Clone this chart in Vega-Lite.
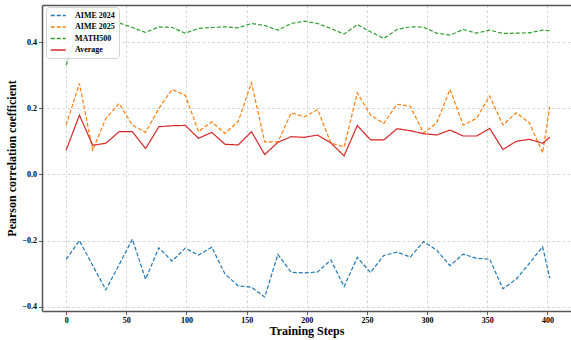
{
  "$schema": "https://vega.github.io/schema/vega-lite/v6.json",
  "autosize": {"type": "none"},
  "padding": {"left": 42, "top": 5, "right": 0, "bottom": 29},
  "width": 529,
  "height": 306,
  "background": "white",
  "data": {
    "values": [
      {"step": 0, "AIME 2024": -0.257, "AIME 2025": 0.149, "MATH500": 0.330, "Average": 0.073},
      {"step": 11, "AIME 2024": -0.200, "AIME 2025": 0.275, "MATH500": 0.455, "Average": 0.179},
      {"step": 22, "AIME 2024": -0.275, "AIME 2025": 0.073, "MATH500": 0.463, "Average": 0.088},
      {"step": 33, "AIME 2024": -0.349, "AIME 2025": 0.169, "MATH500": 0.463, "Average": 0.094},
      {"step": 44, "AIME 2024": -0.273, "AIME 2025": 0.214, "MATH500": 0.458, "Average": 0.129},
      {"step": 55, "AIME 2024": -0.196, "AIME 2025": 0.149, "MATH500": 0.444, "Average": 0.129},
      {"step": 66, "AIME 2024": -0.317, "AIME 2025": 0.127, "MATH500": 0.429, "Average": 0.078},
      {"step": 77, "AIME 2024": -0.222, "AIME 2025": 0.199, "MATH500": 0.446, "Average": 0.144},
      {"step": 88, "AIME 2024": -0.262, "AIME 2025": 0.257, "MATH500": 0.444, "Average": 0.147},
      {"step": 99, "AIME 2024": -0.223, "AIME 2025": 0.239, "MATH500": 0.427, "Average": 0.148},
      {"step": 110, "AIME 2024": -0.244, "AIME 2025": 0.129, "MATH500": 0.441, "Average": 0.109},
      {"step": 121, "AIME 2024": -0.220, "AIME 2025": 0.159, "MATH500": 0.444, "Average": 0.127},
      {"step": 132, "AIME 2024": -0.301, "AIME 2025": 0.124, "MATH500": 0.446, "Average": 0.091},
      {"step": 143, "AIME 2024": -0.337, "AIME 2025": 0.160, "MATH500": 0.443, "Average": 0.089},
      {"step": 154, "AIME 2024": -0.341, "AIME 2025": 0.277, "MATH500": 0.456, "Average": 0.129},
      {"step": 165, "AIME 2024": -0.371, "AIME 2025": 0.098, "MATH500": 0.450, "Average": 0.060},
      {"step": 176, "AIME 2024": -0.242, "AIME 2025": 0.098, "MATH500": 0.436, "Average": 0.097},
      {"step": 187, "AIME 2024": -0.296, "AIME 2025": 0.186, "MATH500": 0.456, "Average": 0.114},
      {"step": 198, "AIME 2024": -0.298, "AIME 2025": 0.174, "MATH500": 0.463, "Average": 0.112},
      {"step": 209, "AIME 2024": -0.295, "AIME 2025": 0.196, "MATH500": 0.456, "Average": 0.119},
      {"step": 220, "AIME 2024": -0.259, "AIME 2025": 0.095, "MATH500": 0.441, "Average": 0.095},
      {"step": 231, "AIME 2024": -0.339, "AIME 2025": 0.083, "MATH500": 0.424, "Average": 0.056},
      {"step": 242, "AIME 2024": -0.251, "AIME 2025": 0.246, "MATH500": 0.453, "Average": 0.148},
      {"step": 253, "AIME 2024": -0.297, "AIME 2025": 0.179, "MATH500": 0.431, "Average": 0.104},
      {"step": 264, "AIME 2024": -0.245, "AIME 2025": 0.154, "MATH500": 0.411, "Average": 0.104},
      {"step": 275, "AIME 2024": -0.235, "AIME 2025": 0.212, "MATH500": 0.438, "Average": 0.138},
      {"step": 286, "AIME 2024": -0.250, "AIME 2025": 0.206, "MATH500": 0.446, "Average": 0.132},
      {"step": 297, "AIME 2024": -0.203, "AIME 2025": 0.125, "MATH500": 0.445, "Average": 0.123},
      {"step": 308, "AIME 2024": -0.229, "AIME 2025": 0.156, "MATH500": 0.427, "Average": 0.119},
      {"step": 319, "AIME 2024": -0.276, "AIME 2025": 0.257, "MATH500": 0.421, "Average": 0.134},
      {"step": 330, "AIME 2024": -0.241, "AIME 2025": 0.149, "MATH500": 0.438, "Average": 0.116},
      {"step": 341, "AIME 2024": -0.254, "AIME 2025": 0.169, "MATH500": 0.427, "Average": 0.116},
      {"step": 352, "AIME 2024": -0.256, "AIME 2025": 0.237, "MATH500": 0.436, "Average": 0.139},
      {"step": 363, "AIME 2024": -0.346, "AIME 2025": 0.149, "MATH500": 0.426, "Average": 0.075},
      {"step": 374, "AIME 2024": -0.317, "AIME 2025": 0.186, "MATH500": 0.427, "Average": 0.100},
      {"step": 385, "AIME 2024": -0.269, "AIME 2025": 0.156, "MATH500": 0.428, "Average": 0.106},
      {"step": 396, "AIME 2024": -0.219, "AIME 2025": 0.065, "MATH500": 0.436, "Average": 0.094},
      {"step": 402, "AIME 2024": -0.314, "AIME 2025": 0.204, "MATH500": 0.434, "Average": 0.112}
    ]
  },
  "transform": [
    {"fold": ["AIME 2024", "AIME 2025", "MATH500", "Average"], "as": ["series", "value"]}
  ],
  "resolve": {"axis": {"x": "independent"}},
  "layer": [
    {
      "mark": {"type": "line", "strokeWidth": 1.2, "clip": true},
      "encoding": {
        "x": {
          "field": "step",
          "type": "quantitative",
          "scale": {"domain": [-20.1, 419.6], "nice": false, "zero": false},
          "axis": {
            "orient": "bottom",
            "values": [0, 50, 100, 150, 200, 250, 300, 350, 400],
            "format": "d",
            "title": "Training Steps",
            "titlePadding": 1
          }
        },
        "y": {
          "field": "value",
          "type": "quantitative",
          "scale": {"domain": [-0.413, 0.512], "nice": false, "zero": false},
          "axis": {
            "values": [-0.4, -0.2, 0, 0.2, 0.4],
            "format": ".1f",
            "title": "Pearson correlation coefficient",
            "titlePadding": 3
          }
        },
        "color": {
          "field": "series",
          "type": "nominal",
          "sort": ["AIME 2024", "AIME 2025", "MATH500", "Average"],
          "scale": {
            "domain": ["AIME 2024", "AIME 2025", "MATH500", "Average"],
            "range": ["#1f77b4", "#ff7f0e", "#2ca02c", "#d62728"]
          },
          "legend": {"title": null}
        },
        "strokeDash": {
          "field": "series",
          "type": "nominal",
          "sort": ["AIME 2024", "AIME 2025", "MATH500", "Average"],
          "scale": {
            "domain": ["AIME 2024", "AIME 2025", "MATH500", "Average"],
            "range": [[4, 2], [4, 2], [4, 2], [1, 0]]
          },
          "legend": {"title": null}
        }
      }
    },
    {
      "mark": {"type": "rule", "opacity": 0},
      "encoding": {
        "x": {
          "datum": 0,
          "type": "quantitative",
          "axis": {
            "orient": "top",
            "labels": false,
            "ticks": false,
            "grid": false,
            "domain": true,
            "title": null
          }
        }
      }
    }
  ],
  "config": {
    "view": {"stroke": null},
    "font": "Liberation Serif",
    "axis": {
      "labelFont": "Liberation Serif",
      "labelFontWeight": "bold",
      "labelFontSize": 8,
      "labelColor": "#000",
      "titleFont": "Liberation Serif",
      "titleFontWeight": "bold",
      "titleFontSize": 12,
      "titleColor": "#000",
      "tickColor": "#333",
      "tickSize": 3.5,
      "tickWidth": 0.8,
      "labelPadding": 2,
      "domain": true,
      "domainColor": "#555",
      "domainWidth": 1.5,
      "grid": true,
      "gridColor": "#c8c8c8",
      "gridDash": [2.5, 2.5],
      "gridWidth": 0.8
    },
    "legend": {
      "orient": "none",
      "legendX": 4,
      "legendY": 2,
      "fillColor": "rgba(255,255,255,0.85)",
      "strokeColor": "#d5d5d5",
      "cornerRadius": 3,
      "padding": 4,
      "labelFont": "Liberation Serif",
      "labelFontWeight": "bold",
      "labelFontSize": 8,
      "labelColor": "#000",
      "labelOffset": 16,
      "symbolType": "M-1,0H3",
      "symbolSize": 56,
      "symbolStrokeWidth": 1.3,
      "rowPadding": 2.5
    }
  }
}
